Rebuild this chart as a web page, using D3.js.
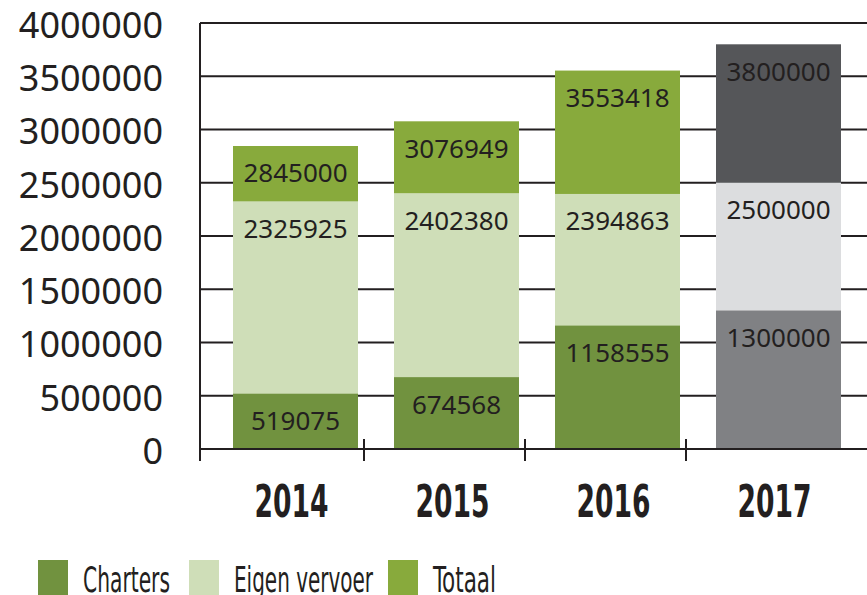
<!DOCTYPE html>
<html lang="nl">
<head>
<meta charset="utf-8">
<title>Charters en eigen vervoer</title>
<script type="text/javascript" src="https://cdn.jsdelivr.net/npm/d3@7"></script>
<style>
    body { margin: 0; background: #ffffff; }
</style>
</head>
<body>
<script type="text/javascript">

// -- Data -- //

let years = ["2014", "2015", "2016", "2017"];
let charters = [519075, 674568, 1158555, 1300000];
let eigenVervoer = [2325925, 2402380, 2394863, 2500000];
let totaal = [2845000, 3076949, 3553418, 3800000];
let yTicks = [0, 500000, 1000000, 1500000, 2000000, 2500000, 3000000, 3500000, 4000000];
let legendNames = ["Charters", "Eigen vervoer", "Totaal"];

// -- Setting -- //

let canvasWidth = 867;
let canvasHeight = 595;
let textColor = "#231f20";

// green for the real years, greys for the forecast year
let colors = {
    Charters: "#71923f",
    "Eigen vervoer": "#cfdeb8",
    Totaal: "#88aa3c"
};
let greys = {
    Charters: "#808184",
    "Eigen vervoer": "#dcdddf",
    Totaal: "#555659"
};

const canvas = d3.select("body")
    .append("svg")
    .attr("width", canvasWidth)
    .attr("height", canvasHeight);

let y = d3.scaleLinear()
    .domain([0, 4000000])
    .range([449, 23]);

let x = d3.scaleBand()
    .domain(years)
    .range([233, 841])
    .paddingInner(0.2236)
    .paddingOuter(0);

// -- Grid and axes -- //

canvas.append("g")
    .selectAll("line")
    .data(yTicks.filter(d => d > 0))
    .join("line")
        .attr("x1", 200)
        .attr("x2", canvasWidth)
        .attr("y1", d => y(d))
        .attr("y2", d => y(d))
        .attr("stroke", textColor)
        .attr("stroke-width", 2);

canvas.append("g")
    .selectAll("text")
    .data(yTicks)
    .join("text")
        .attr("x", 163)
        .attr("y", d => y(d) + 2)
        .attr("dy", "0.36em")
        .attr("text-anchor", "end")
        .attr("font-family", "'Noto Sans', sans-serif")
        .attr("font-size", 36)
        .attr("fill", textColor)
        .text(d => d);

// -- Bars: drawn on top of each other, all from zero -- //

let layers = [
    { name: "Totaal", values: totaal },
    { name: "Eigen vervoer", values: eigenVervoer },
    { name: "Charters", values: charters }
];

let cells = [];
layers.forEach(function(layer) {
    years.forEach(function(yr, i) {
        cells.push({ name: layer.name, year: yr, value: layer.values[i], forecast: yr === "2017" });
    });
});

canvas.append("g")
    .selectAll("rect")
    .data(cells)
    .join("rect")
        .attr("x", d => x(d.year))
        .attr("width", x.bandwidth())
        .attr("y", d => y(d.value))
        .attr("height", d => y(0) - y(d.value))
        .attr("fill", d => d.forecast ? greys[d.name] : colors[d.name]);

canvas.append("g")
    .selectAll("text")
    .data(cells)
    .join("text")
        .attr("x", d => x(d.year) + x.bandwidth() / 2)
        .attr("y", d => y(d.value) + 27)
        .attr("dy", "0.36em")
        .attr("text-anchor", "middle")
        .attr("font-family", "'Noto Sans', sans-serif")
        .attr("font-size", 26)
        .attr("fill", textColor)
        .text(d => d.value);

// axis lines on top of the bars
canvas.append("line")
    .attr("x1", 200).attr("x2", 200)
    .attr("y1", 23).attr("y2", 461)
    .attr("stroke", textColor)
    .attr("stroke-width", 2);

canvas.append("line")
    .attr("x1", 200).attr("x2", canvasWidth)
    .attr("y1", 449).attr("y2", 449)
    .attr("stroke", textColor)
    .attr("stroke-width", 2);

canvas.append("g")
    .selectAll("line")
    .data(years.slice(1))
    .join("line")
        .attr("x1", d => x(d) - 30)
        .attr("x2", d => x(d) - 30)
        .attr("y1", 439)
        .attr("y2", 461)
        .attr("stroke", textColor)
        .attr("stroke-width", 2);

canvas.append("g")
    .selectAll("text")
    .data(years)
    .join("text")
        .attr("x", d => x(d) + x.bandwidth() / 2 - 4)
        .attr("y", 517)
        .attr("text-anchor", "middle")
        .attr("font-family", "'DejaVu Sans Condensed', 'DejaVu Sans', sans-serif")
        .attr("font-weight", "bold")
        .attr("font-size", 45)
        .attr("textLength", 74)
        .attr("lengthAdjust", "spacingAndGlyphs")
        .attr("fill", textColor)
        .text(d => d);

// -- Legend -- //

let legendX = [38, 189, 388];
let legendWidths = [87, 139, 63];

let legend = canvas.append("g")
    .selectAll("g")
    .data(legendNames)
    .join("g")
        .attr("transform", (d, i) => `translate(${legendX[i]}, 560)`);

legend.append("rect")
    .attr("width", 30)
    .attr("height", 40)
    .attr("fill", d => colors[d]);

legend.append("text")
    .attr("x", 45)
    .attr("y", 32)
    .attr("font-family", "'DejaVu Sans Condensed', 'DejaVu Sans', sans-serif")
    .attr("font-size", 36)
    .attr("textLength", (d, i) => legendWidths[i])
    .attr("lengthAdjust", "spacingAndGlyphs")
    .attr("fill", textColor)
    .text(d => d);

</script>
</body>
</html>
